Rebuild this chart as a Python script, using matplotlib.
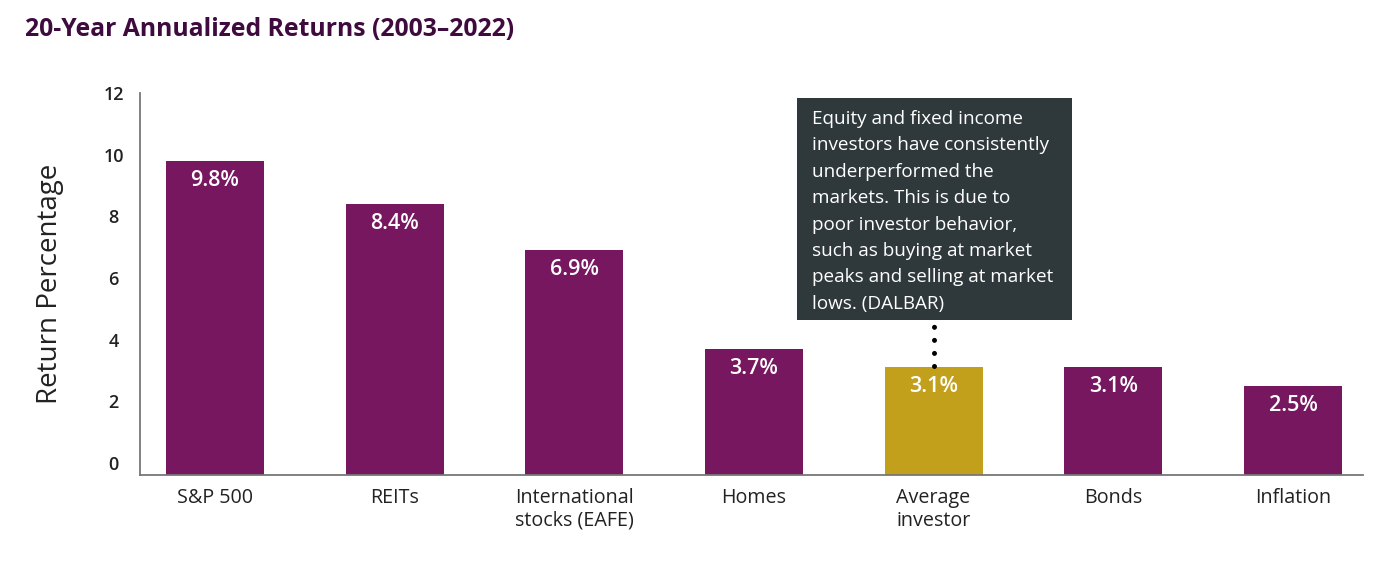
import matplotlib
matplotlib.use('Agg')
import matplotlib.pyplot as plt
from matplotlib.patches import Rectangle

# Data
#==========================================================
categories = ['S&P 500', 'REITs', 'International\nstocks (EAFE)', 'Homes',
              'Average\ninvestor', 'Bonds', 'Inflation']
returns    = [9.8, 8.4, 6.9, 3.7, 3.1, 3.1, 2.5]
highlight  = 'Average\ninvestor'
yticks     = [0, 2, 4, 6, 8, 10, 12]
note = ('Equity and fixed income\ninvestors have consistently\nunderperformed the\n'
        'markets. This is due to\npoor investor behavior,\nsuch as buying at market\n'
        'peaks and selling at market\nlows. (DALBAR)')

# Style
#==========================================================
plt.rcParams['font.family'] = ['Open Sans', 'DejaVu Sans']
purple = '#76175f'
gold   = '#c3a01c'
dark   = '#222222'
ymin, ymax = -0.39, 12.0

fig = plt.figure(figsize=(14, 5.64), dpi=100)
ax = fig.add_axes([0.1, 0.1578, 0.8736, 0.6773])

colors = [gold if c == highlight else purple for c in categories]
x = range(len(categories))
ax.bar(x, [r - ymin for r in returns], bottom=ymin, width=0.545, color=colors)

for i, r in enumerate(returns):
    ax.annotate('{:.1f}%'.format(r), (i, r), xytext=(0, -14), textcoords='offset points',
                ha='center', va='center', color='white', fontsize=15.5, fontweight='semibold')

ax.set_xlim(-0.417, 6.39)
ax.set_ylim(ymin, ymax)
ax.set_xticks(list(x))
ax.set_xticklabels(categories, fontsize=14.2, color=dark, linespacing=1.2,
                   fontweight='medium')
ax.set_yticks(yticks)
ax.set_yticklabels([str(t) for t in yticks], fontsize=13, color=dark, fontweight='semibold')
ax.tick_params(axis='x', length=0, pad=9)
ax.tick_params(axis='y', length=0, pad=19)
for lab in ax.get_yticklabels():
    lab.set_ha('center')

for s in ['top', 'right']:
    ax.spines[s].set_visible(False)
for s in ['left', 'bottom']:
    ax.spines[s].set_color('#777777')
    ax.spines[s].set_linewidth(1.3)

ax.set_ylabel('Return Percentage', fontsize=20, color=dark, labelpad=28)

# Annotation box with dotted leader to the highlighted bar
hi = categories.index(highlight)
ax.plot([hi, hi], [returns[hi] + 0.05, 4.5], color='black', lw=3.6,
        ls=(0, (0.01, 2.6)), dash_capstyle='round', solid_capstyle='round')
fig.add_artist(Rectangle((0.5693, 0.4326), 0.1964, 0.3936, transform=fig.transFigure,
                         facecolor='#2f393b', edgecolor='none'))
fig.text(0.58, 0.805, note, ha='left', va='top', color='white', fontsize=13.6, linespacing=1.6)

fig.text(25 / 1400, 1 - 30 / 564, '20-Year Annualized Returns (2003\u20132022)',
         ha='left', va='center', fontsize=17.8, fontweight='bold', color='#3f0b3f')

fig.savefig('out.png', dpi=100)
